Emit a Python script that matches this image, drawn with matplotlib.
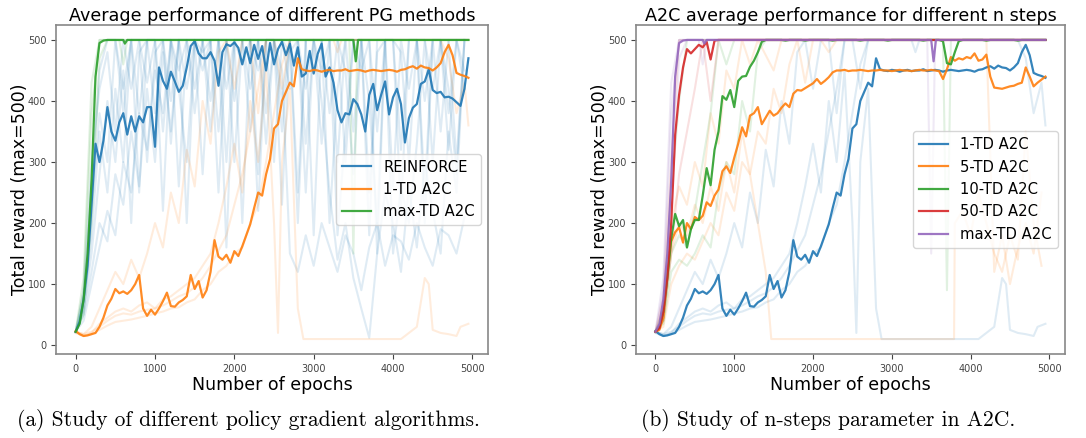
import numpy as np
import matplotlib
matplotlib.use("Agg")
import matplotlib.pyplot as plt

# ---- mean curves, sampled every 50 epochs ----
epochs = np.arange(0, 5000, 50)

reinforce_mean = [22, 38, 75, 130, 230, 330, 300, 335, 390, 350,
                  335, 365, 380, 345, 375, 350, 375, 365, 390, 390,
                  325, 455, 433, 420, 448, 432, 415, 425, 455, 490,
                  498, 478, 470, 470, 480, 466, 425, 480, 493, 490,
                  496, 487, 460, 488, 462, 492, 469, 490, 450, 495,
                  460, 485, 497, 475, 494, 458, 488, 440, 445, 482,
                  445, 477, 494, 440, 455, 430, 385, 365, 380, 378,
                  403, 395, 378, 350, 410, 428, 385, 410, 432, 378,
                  406, 420, 395, 332, 372, 389, 395, 428, 432, 452,
                  418, 413, 415, 406, 407, 404, 398, 392, 420, 470]

td1_mean = [23, 18, 15, 16, 18, 20, 30, 45, 65, 76,
            92, 85, 88, 84, 90, 100, 115, 60, 48, 58,
            50, 60, 72, 86, 64, 63, 70, 74, 80, 115,
            92, 105, 78, 90, 120, 172, 145, 140, 148, 135,
            154, 146, 162, 180, 198, 225, 250, 245, 280, 305,
            355, 362, 400, 415, 430, 424, 470, 452, 450, 449,
            451, 450, 448, 450, 451, 449, 450, 450, 452, 449,
            450, 451, 450, 448, 450, 451, 450, 449, 450, 451,
            450, 448, 451, 452, 455, 457, 453, 458, 455, 454,
            450, 455, 462, 480, 492, 475, 446, 443, 441, 438]

td5_mean = [22, 25, 45, 110, 170, 185, 193, 168, 200, 190,
            210, 205, 212, 234, 228, 245, 255, 285, 293, 282,
            307, 330, 357, 342, 376, 380, 390, 362, 373, 384,
            376, 380, 389, 396, 390, 412, 418, 417, 421, 425,
            429, 436, 428, 433, 439, 447, 450, 450, 451, 449,
            450, 450, 451, 450, 449, 450, 450, 451, 450, 450,
            449, 450, 451, 450, 450, 449, 450, 451, 450, 450,
            451, 450, 449, 436, 452, 472, 466, 470, 468, 472,
            470, 478, 466, 468, 476, 440, 422, 421, 420, 422,
            424, 425, 428, 430, 455, 440, 424, 430, 435, 440]

td10_mean = [22, 30, 55, 110, 175, 215, 195, 205, 160, 190,
             205, 205, 245, 290, 262, 320, 350, 408, 402, 418,
             390, 433, 440, 441, 456, 466, 480, 497, 500, 500,
             500, 500, 500, 499, 500, 500, 500, 500, 499, 500,
             500, 500, 500, 500, 500, 499, 500, 500, 500, 500,
             500, 500, 499, 500, 500, 500, 500, 500, 500, 499,
             500, 500, 500, 500, 500, 500, 500, 500, 499, 500,
             500, 500, 500, 498, 462, 460, 480, 498, 500, 500,
             500, 500, 500, 500, 499, 500, 500, 500, 500, 500,
             500, 500, 499, 500, 500, 500, 500, 500, 500, 500]

# flat stretches given as vertices
tdmax_x = [0, 50, 100, 150, 200, 250, 300, 350, 400, 600, 620, 650, 3500, 3530, 3560, 4950]
tdmax_y = [22, 35, 75, 150, 270, 440, 495, 499, 500, 500, 494, 500, 500, 465, 500, 500]

td50_x = [0, 50, 100, 150, 200, 250, 300, 350, 400, 450, 500, 550, 600, 650, 700, 750, 800, 4950]
td50_y = [22, 28, 55, 110, 200, 345, 410, 455, 485, 478, 485, 492, 488, 497, 468, 499, 500, 500]

# ---- individual (faint) runs ----
run_epochs = np.arange(0, 5000, 100)
reinforce_runs = [
    [22, 90, 300, 420, 480, 350, 500, 420, 500, 300, 480, 500, 400, 500, 500, 380, 500, 500, 250, 500,
     500, 500, 420, 500, 500, 300, 500, 500, 200, 500, 500, 450, 500, 180, 350, 500, 500, 250, 480, 500,
     500, 220, 500, 500, 400, 500, 500, 320, 500, 500],
    [20, 60, 180, 350, 250, 420, 300, 500, 380, 500, 500, 220, 500, 450, 500, 500, 280, 500, 500, 420,
     500, 200, 500, 500, 380, 500, 450, 150, 120, 180, 130, 200, 160, 120, 180, 150, 90, 160, 200, 130,
     180, 170, 140, 200, 160, 130, 190, 180, 150, 210],
    [22, 50, 120, 200, 170, 280, 230, 350, 260, 420, 300, 480, 350, 500, 420, 500, 500, 350, 500, 500,
     300, 500, 500, 450, 500, 500, 230, 500, 500, 330, 500, 400, 250, 140, 200, 110, 60, 12, 150, 250,
     200, 120, 260, 160, 300, 220, 150, 350, 250, 500],
    [22, 80, 260, 450, 500, 500, 380, 500, 500, 430, 500, 500, 330, 500, 500, 500, 450, 500, 500, 500,
     400, 500, 500, 280, 500, 500, 500, 480, 500, 420, 500, 500, 380, 500, 300, 500, 500, 400, 200, 500,
     500, 480, 300, 500, 500, 420, 500, 500, 300, 500],
    [22, 40, 100, 160, 220, 180, 300, 250, 380, 320, 450, 380, 500, 420, 300, 500, 480, 500, 350, 500,
     500, 460, 500, 500, 330, 500, 500, 420, 500, 250, 500, 330, 500, 500, 450, 280, 500, 500, 350, 500,
     260, 500, 420, 500, 200, 500, 350, 500, 500, 420],
    [22, 70, 220, 380, 300, 500, 420, 500, 250, 500, 500, 350, 500, 500, 200, 500, 500, 400, 500, 300,
     500, 500, 500, 220, 500, 500, 350, 500, 500, 500, 180, 500, 500, 300, 500, 500, 450, 500, 150, 500,
     500, 320, 500, 500, 250, 500, 500, 380, 500, 450],
    [22, 55, 150, 280, 400, 300, 450, 200, 480, 500, 380, 500, 500, 260, 500, 420, 500, 500, 500, 160,
     500, 500, 350, 500, 500, 500, 400, 500, 250, 500, 500, 500, 200, 420, 500, 350, 500, 180, 500, 500,
     150, 260, 200, 330, 500, 300, 500, 420, 280, 500],
]

td1_runs = [
    (list(range(0, 2600, 100)) + [2550, 2600, 2700, 2800, 2870, 4100, 4200, 4300, 4400, 4450, 4500,
                                   4600, 4700, 4800, 4850, 4950],
     [22, 15, 20, 35, 45, 55, 60, 55, 65, 70, 60, 75, 80, 90, 100, 110, 130, 150, 200, 260, 330, 250,
      400, 300, 450, 200, 20, 300, 420, 60, 10, 10, 20, 30, 110, 100, 25, 20, 18, 15, 30, 35]),
    (list(range(0, 2800, 100)) + [3250, 3300, 3350, 4950],
     [22, 18, 22, 30, 40, 48, 52, 50, 55, 58, 60, 65, 72, 80, 85, 95, 110, 130, 155, 180, 230, 280,
      350, 420, 500, 500, 420, 500, 500, 480, 500, 500]),
    (list(range(0, 2800, 100)) + [4600, 4700, 4800, 4900, 4950],
     [20, 15, 18, 25, 32, 38, 40, 42, 45, 48, 52, 55, 60, 62, 70, 75, 90, 100, 120, 130, 150, 160,
      200, 230, 300, 380, 460, 500, 500, 470, 380, 430, 360]),
    (list(range(0, 2500, 100)) + [2500, 4950],
     [22, 18, 30, 60, 90, 120, 100, 140, 110, 150, 200, 160, 250, 200, 320, 260, 400, 330, 480, 500,
      420, 500, 500, 380, 500, 500, 500]),
]

tdmax_runs = [
    ([0, 100, 200, 300, 3450, 3500, 3550, 4950], [22, 90, 380, 500, 500, 150, 500, 500]),
    ([0, 100, 200, 300, 400, 550, 600, 650, 4950], [22, 50, 200, 470, 500, 500, 460, 500, 500]),
    ([0, 100, 200, 300, 4950], [22, 110, 430, 500, 500]),
]

td5_runs = [
    (list(range(0, 1500, 100)) + [1470, 3790, 3800] + list(range(3900, 5000, 100)),
     [22, 40, 150, 200, 180, 230, 200, 260, 220, 300, 250, 350, 280, 200, 120, 10, 10, 200,
      220, 180, 250, 200, 150, 120, 180, 140, 350, 200, 130]),
    (list(range(0, 1200, 100)) + [1200, 1300, 1500, 1600] + list(range(4200, 5000, 100)),
     [22, 60, 200, 260, 230, 300, 260, 380, 330, 450, 420, 500, 460, 500, 450, 500,
      500, 120, 180, 100, 160, 200, 150, 250]),
    (list(range(0, 2400, 100)) + [4950],
     [22, 30, 100, 130, 150, 140, 170, 200, 180, 250, 220, 300, 280, 350, 330, 420, 380, 460,
      500, 430, 500, 500, 480, 500, 500]),
]

td10_runs = [
    ([0, 100, 200, 300, 400, 3650, 3700, 3750, 4950], [22, 60, 250, 400, 500, 500, 90, 500, 500]),
    (list(range(0, 1100, 100)) + [4950], [22, 40, 150, 180, 160, 220, 300, 380, 500, 460, 500, 500]),
    (list(range(0, 1500, 100)) + [4950],
     [22, 35, 120, 140, 130, 150, 180, 160, 250, 300, 280, 400, 350, 480, 500, 500]),
]

td50_runs = [
    ([0, 100, 200, 300, 4950], [22, 80, 300, 500, 500]),
    ([0, 100, 200, 300, 400, 500, 600, 700, 800, 4950], [22, 40, 150, 280, 350, 420, 500, 400, 500, 500]),
]

C_BLUE, C_ORANGE, C_GREEN, C_RED, C_PURPLE = "#1f77b4", "#ff7f0e", "#2ca02c", "#d62728", "#9467bd"
FAINT = dict(alpha=0.14, lw=1.5)
MEAN = dict(alpha=0.9, lw=1.6)

fig = plt.figure(figsize=(10.86, 4.38), dpi=100)
ax1 = fig.add_axes([0.0516, 0.1918, 0.3978, 0.7511])
ax2 = fig.add_axes([0.5856, 0.1918, 0.395, 0.7511])

# left: different PG methods
for r in reinforce_runs:
    ax1.plot(run_epochs, r, color=C_BLUE, **FAINT)
for x, y in td1_runs:
    ax1.plot(x, y, color=C_ORANGE, **FAINT)
for x, y in tdmax_runs:
    ax1.plot(x, y, color=C_GREEN, **FAINT)
ax1.plot(epochs, reinforce_mean, color=C_BLUE, label="REINFORCE", **MEAN)
ax1.plot(epochs, td1_mean, color=C_ORANGE, label="1-TD A2C", **MEAN)
ax1.plot(tdmax_x, tdmax_y, color=C_GREEN, label="max-TD A2C", **MEAN)
ax1.set_title("Average performance of different PG methods", fontsize=12.6, pad=3)

# right: n-steps
for x, y in td1_runs:
    ax2.plot(x, y, color=C_BLUE, **FAINT)
for x, y in td5_runs:
    ax2.plot(x, y, color=C_ORANGE, **FAINT)
for x, y in td10_runs:
    ax2.plot(x, y, color=C_GREEN, **FAINT)
for x, y in td50_runs:
    ax2.plot(x, y, color=C_RED, **FAINT)
for x, y in tdmax_runs:
    ax2.plot(x, y, color=C_PURPLE, **FAINT)
ax2.plot(epochs, td1_mean, color=C_BLUE, label="1-TD A2C", **MEAN)
ax2.plot(epochs, td5_mean, color=C_ORANGE, label="5-TD A2C", **MEAN)
ax2.plot(epochs, td10_mean, color=C_GREEN, label="10-TD A2C", **MEAN)
ax2.plot(td50_x, td50_y, color=C_RED, label="50-TD A2C", **MEAN)
ax2.plot(tdmax_x, tdmax_y, color=C_PURPLE, label="max-TD A2C", **MEAN)
ax2.set_title("A2C average performance for different n steps", fontsize=12.6, pad=3)

for ax in (ax1, ax2):
    ax.set_xlim(-247.5, 5197.5)
    ax.set_ylim(-14.5, 524.5)
    ax.set_xticks([0, 1000, 2000, 3000, 4000, 5000])
    ax.set_yticks([0, 100, 200, 300, 400, 500])
    ax.tick_params(labelsize=7, colors="#444444", length=3.5, width=0.8)
    for s in ax.spines.values():
        s.set_color("#888888")
        s.set_linewidth(1.2)
    ax.set_xlabel("Number of epochs", fontsize=12.5, labelpad=2)
    ax.set_ylabel("Total reward (max=500)", fontsize=12.5, labelpad=-1)
    ax.legend(loc="center right", fontsize=10.6)

cap_font = ["cmr10", "DejaVu Serif"]
fig.text(0.229, 0.039, "(a) Study of different policy gradient algorithms.",
         ha="center", va="center", fontsize=15.5, family=cap_font)
fig.text(0.763, 0.039, "(b) Study of n-steps parameter in A2C.",
         ha="center", va="center", fontsize=15.5, family=cap_font)

fig.savefig("out.png", dpi=100)
